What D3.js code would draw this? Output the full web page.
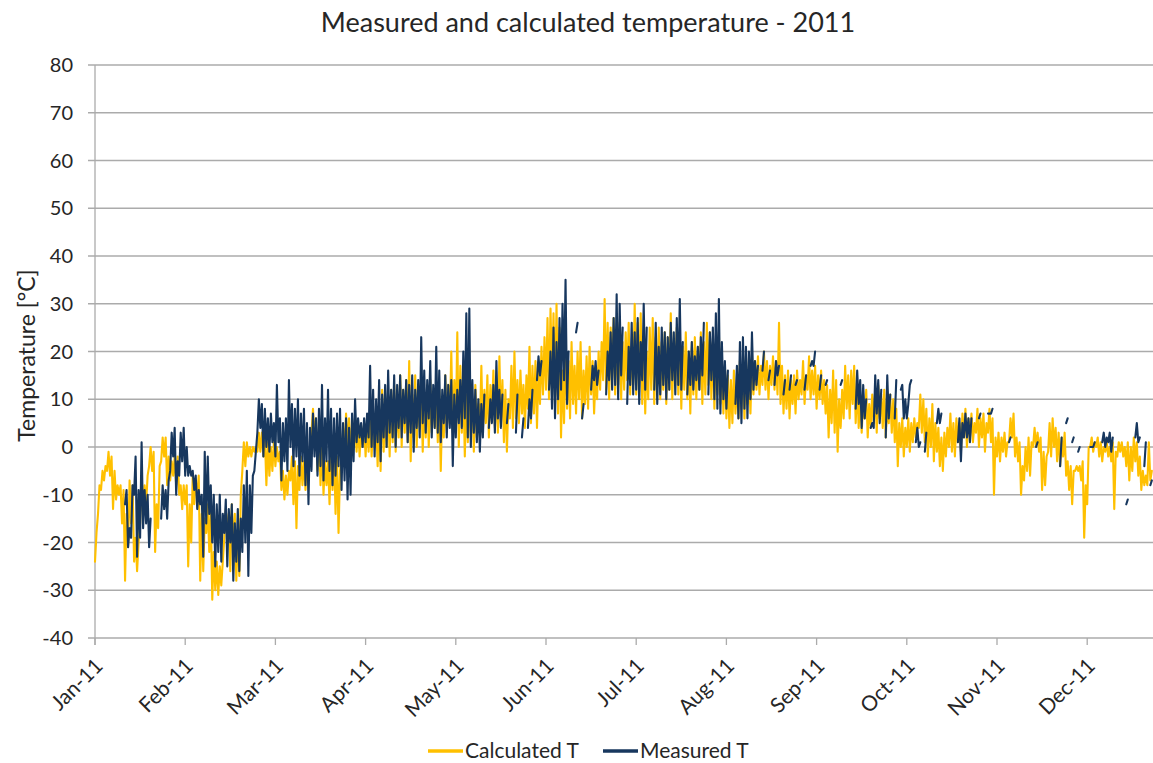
<!DOCTYPE html>
<html>
<head>
<meta charset="utf-8">
<script src="https://cdn.jsdelivr.net/npm/d3@7"></script>
<style>
  body { margin: 0; background: #fff; }
  text { font-family: Lato, "Open Sans", sans-serif; fill: #262626; }
</style>
</head>
<body>
<svg id="chart" width="1153" height="763"></svg>
<script>
// Labels and ticks
var monthLabels = ["Jan-11", "Feb-11", "Mar-11", "Apr-11", "May-11", "Jun-11",
                   "Jul-11", "Aug-11", "Sep-11", "Oct-11", "Nov-11", "Dec-11"];
var yTicks = [-40, -30, -20, -10, 0, 10, 20, 30, 40, 50, 60, 70, 80];
var seriesNames = ["Calculated T", "Measured T"];

// Calculated T, per day: night low and day high
var calcLo = [
  -24,-14,-9,-7,-5,-6,-13,-11,-10,-16,
  -28,-21,-16,-24,-26,-16,-14,-12,-4,-5,
  -22,-17,-3,-2,-8,-7,-6,-8,-10,-13,
  -12,-25,-20,-12,-10,-28,-26,-18,-22,-32,
  -30,-31,-29,-19,-18,-26,-22,-28,-27,-5,
  -4,-2,-2,-1,-1,-1,-2,-8,-6,-5,
  -4,-3,-9,-11,-10,-7,-12,-17,-9,-8,
  -9,-6,3,2,-5,-8,-10,-8,-12,-9,
  -14,-18,-2,-1,0,-2,0,-1,-2,0,
  -2,-1,-2,0,-4,-5,-1,0,-2,1,
  -1,2,0,3,1,-3,2,0,4,-1,
  2,0,3,4,1,-5,2,3,5,3,
  4,0,3,-2,1,2,-1,2,4,3,
  5,2,6,4,3,5,1,-1,6,4,
  6,5,7,4,8,5,7,4,9,11,
  12,10,14,9,7,2,5,8,6,9,
  7,10,6,9,8,11,7,10,12,14,
  12,10,14,11,13,10,12,14,11,13,
  11,14,9,7,10,12,9,13,10,12,
  9,12,10,13,11,8,12,10,7,11,
  10,12,9,11,13,10,8,11,9,7,
  6,4,5,7,6,8,6,9,7,11,
  12,11,13,12,10,13,12,11,9,7,
  8,6,9,7,10,11,9,12,10,11,
  8,10,9,7,2,5,3,-1,4,6,
  8,6,9,5,4,3,6,2,4,5,
  3,6,4,2,5,3,1,-4,0,-2,
  0,-1,1,2,4,3,1,-2,0,-3,
  -1,-4,-5,-2,0,-1,-2,1,-1,2,
  0,2,1,3,0,2,-1,3,1,-10,
  -2,-3,-1,-2,1,2,-2,-3,-10,-7,
  -5,-6,0,0,-1,-9,-8,-1,-2,0,
  -3,-4,-2,-6,-9,-12,-5,-5,-7,-19,
  -12,0,-1,0,-2,-3,-1,-2,-3,-13,
  -2,-1,-2,-4,-7,-5,-3,-6,-9,-8,
  -8,-7
];
var calcHi = [
  -18,-8,-5,-4,-1,-2,-5,-8,-8,-9,
  -14,-7,-8,-19,-20,-6,-8,-6,0,-1,
  -12,-4,2,2,-2,-3,-2,-2,-8,-8,
  -8,-12,-6,-7,-6,-14,-15,-12,-13,-22,
  -24,-25,-24,-13,-14,-12,-14,-18,-10,1,
  1,0,0,0,3,3,2,1,0,1,
  0,-1,-5,-6,-5,-2,-3,-4,-2,-3,
  -2,-1,8,6,3,1,-3,-3,-1,0,
  -2,-5,4,7,6,5,6,5,4,5,
  5,6,4,6,8,12,9,10,12,13,
  10,15,12,14,18,11,15,12,14,10,
  13,14,11,13,12,9,15,13,20,14,
  24,17,13,11,12,10,13,9,17,12,
  15,13,16,12,19,14,12,10,17,20,
  14,16,13,15,21,17,18,16,21,23,
  27,29,28,30,25,16,22,18,22,17,
  20,22,16,19,21,18,15,20,22,31,
  26,25,27,23,26,22,24,26,21,30,
  26,28,22,20,25,27,23,25,22,24,
  23,28,22,25,23,21,24,20,22,23,
  21,24,22,26,24,22,20,24,18,17,
  15,14,16,13,18,17,19,16,18,18,
  19,17,20,18,17,19,18,26,17,15,
  16,14,15,16,14,18,15,19,16,17,
  15,16,14,13,12,16,14,10,12,17,
  15,16,17,13,11,10,12,9,11,12,
  13,11,12,9,11,10,8,5,6,4,
  6,5,6,5,11,10,8,6,9,5,
  4,2,3,4,7,5,6,5,7,8,
  6,7,5,8,6,7,5,8,6,2,
  3,2,3,1,6,7,2,1,-4,0,
  2,1,4,3,2,-1,-2,5,6,4,
  3,2,3,-3,-4,-5,-4,-4,-3,-8,
  0,2,1,2,1,0,1,0,1,-1,
  1,1,0,1,0,2,1,-2,-5,-6,
  1,-5
];

// Measured T, per day: low and high, null where the logger had no data
var measLo = [
  null,null,null,null,null,null,null,null,null,null,
  -12,-21,-19,-10,-23,-19,-17,-16,-21,null,
  null,null,-15,-13,-15,-5,-2,-10,-6,-3,
  -6,-6,-6,-9,-13,-12,-23,-16,-14,-20,
  -25,-22,-24,-18,-25,-20,-28,-24,-26,-22,
  -20,-27,-18,-5,3,4,-2,0,-1,1,
  -2,1,-7,-3,-5,0,-4,-2,-6,-3,
  -8,-12,-5,-2,-6,-4,-7,-3,-5,-8,
  -6,-4,-9,-7,-11,-10,-3,1,2,0,
  1,2,0,-2,1,-3,2,0,3,2,
  0,4,2,5,1,3,-1,4,2,5,
  3,6,2,4,3,1,5,2,4,-4,
  2,5,4,6,2,0,3,1,-1,2,
  null,4,5,3,6,4,null,5,null,null,
  3,null,2,null,4,6,null,14,15,null,
  null,12,8,6,10,12,14,9,null,null,
  24,null,6,null,null,12,14,13,null,null,
  11,14,12,13,10,15,null,9,13,11,
  12,9,14,12,null,null,12,9,11,13,
  10,12,14,11,13,12,null,11,13,12,
  14,12,15,null,11,14,10,8,7,10,
  8,null,null,9,6,5,8,6,10,12,
  13,null,16,null,14,null,13,15,null,11,
  null,12,null,13,null,null,12,null,17,17,
  null,12,null,13,null,null,null,null,13,null,
  null,null,null,8,9,4,6,null,4,4,
  7,5,null,2,6,null,6,null,12,6,
  6,13,null,1,0,null,-1,null,null,null,
  5,5,null,null,null,null,null,1,-3,2,
  2,1,null,null,6,null,null,7,7,null,
  null,null,null,null,1,null,null,null,null,null,
  null,null,null,0,null,null,null,null,null,null,
  null,-4,null,5,null,1,null,-1,null,null,
  null,0,0,null,null,1,0,1,-1,null,
  null,null,null,-12,null,null,2,1,null,-4,
  null,-8
];
var measHi = [
  null,null,null,null,null,null,null,null,null,null,
  -9,-17,-8,-2,-9,1,-9,-10,-15,null,
  null,null,-8,-9,-7,3,4,-3,3,4,
  0,-4,-5,-6,-9,-10,-1,-2,-8,-10,
  -12,-10,-14,-11,-13,-12,-16,-13,-15,-8,
  -5,-8,-6,-1,10,9,8,6,7,5,
  13,6,5,6,14,9,8,10,7,8,
  5,4,7,6,8,13,6,12,8,6,
  7,8,5,6,4,7,10,6,5,6,
  7,17,12,10,14,11,13,16,12,15,
  13,15,12,14,13,15,12,14,23,16,
  14,18,13,21,16,12,15,13,14,11,
  12,14,20,28,29,14,12,10,9,11,
  null,10,13,18,12,11,null,9,null,null,
  11,null,6,null,10,12,null,19,18,null,
  null,20,25,22,27,30,35,20,null,null,
  26,null,9,null,null,17,18,16,null,null,
  20,24,27,32,30,25,null,21,26,24,
  27,22,30,25,null,null,26,21,25,24,
  23,26,24,27,31,22,null,20,22,19,
  21,23,26,null,24,25,28,31,22,18,
  16,null,null,17,22,23,21,20,24,18,
  17,null,20,null,16,null,18,17,null,14,
  null,15,null,14,null,null,15,null,18,20,
  null,15,null,14,null,null,null,null,14,null,
  null,null,null,16,14,13,10,null,5,15,
  14,12,null,15,11,null,14,null,13,10,
  9,14,null,4,1,null,3,null,null,null,
  8,7,null,null,null,null,null,6,5,7,
  6,6,null,null,7,null,null,7,8,null,
  null,null,null,null,2,null,null,null,null,null,
  null,null,null,1,null,null,null,null,null,null,
  null,2,null,6,null,2,null,0,null,null,
  null,0,1,null,null,3,2,3,2,null,
  null,null,null,-11,null,null,5,2,null,1,
  null,-7
];

var colors = ["#FFC000", "#17375E"];

// turn low/high pairs into one half-daily series
function toPoints(lo, hi) {
  var pts = [];
  lo.forEach(function(v, i) {
    pts.push({day: i, t: v});
    pts.push({day: i + 0.5, t: hi[i]});
  });
  return pts;
}

var svg = d3.select("#chart");
var plotLeft = 95, plotTop = 65, plotBottom = 638, plotRight = 1153;
var daysPerTick = 30;

var x = d3.scaleLinear()
          .domain([0, daysPerTick * monthLabels.length])
          .range([plotLeft, plotLeft + 90.2 * monthLabels.length]);
var y = d3.scaleLinear().domain([-40, 80]).range([plotBottom, plotTop]);

// Title
svg.append("text")
   .attr("x", 588).attr("y", 32)
   .attr("text-anchor", "middle")
   .style("font-size", "27px")
   .text("Measured and calculated temperature - 2011");

// Gridlines + y labels
var yAxis = svg.append("g");
yTicks.forEach(function(t) {
  yAxis.append("line")
       .attr("x1", plotLeft - 7).attr("x2", plotRight)
       .attr("y1", y(t)).attr("y2", y(t))
       .attr("stroke", "#ABABAB").attr("stroke-width", 1.3);
  yAxis.append("text")
       .attr("x", 73).attr("y", y(t))
       .attr("dy", "0.36em")
       .attr("text-anchor", "end")
       .style("font-size", "20px")
       .text(t);
});
yAxis.append("line")
     .attr("x1", plotLeft).attr("x2", plotLeft)
     .attr("y1", plotTop).attr("y2", plotBottom + 7)
     .attr("stroke", "#ABABAB").attr("stroke-width", 1.3);

// x ticks + rotated labels
var xAxis = svg.append("g");
monthLabels.forEach(function(m, i) {
  var px = x(i * daysPerTick);
  xAxis.append("line")
       .attr("x1", px).attr("x2", px)
       .attr("y1", plotBottom).attr("y2", plotBottom + 7)
       .attr("stroke", "#ABABAB").attr("stroke-width", 1.3);
  xAxis.append("text")
       .attr("transform", "translate(" + (px + 4) + "," + (plotBottom + 24) + ") rotate(-45)")
       .attr("dy", "0.35em")
       .attr("text-anchor", "end")
       .style("font-size", "21px")
       .text(m);
});

// Axis title
svg.append("text")
   .attr("transform", "translate(27," + ((plotTop + plotBottom) / 2 + 4) + ") rotate(-90)")
   .attr("text-anchor", "middle")
   .attr("dy", "0.35em")
   .style("font-size", "23px")
   .text("Temperature [°C]");

// Lines
var line = d3.line()
             .defined(function(d) { return d.t !== null; })
             .x(function(d) { return x(d.day); })
             .y(function(d) { return y(d.t); });

var series = [toPoints(calcLo, calcHi), toPoints(measLo, measHi)];
series.forEach(function(pts, i) {
  svg.append("path")
     .datum(pts)
     .attr("d", line)
     .attr("fill", "none")
     .attr("stroke", colors[i])
     .attr("stroke-width", 2.1)
     .attr("stroke-linejoin", "round")
     .attr("stroke-linecap", "round");
});

// Legend
var legendX = [428, 603];
seriesNames.forEach(function(name, i) {
  var g = svg.append("g").attr("transform", "translate(" + legendX[i] + ",751)");
  g.append("line")
   .attr("x1", 0).attr("x2", 35)
   .attr("stroke", colors[i]).attr("stroke-width", 3.5);
  g.append("text")
   .attr("x", 37).attr("dy", "0.35em")
   .style("font-size", "21px")
   .text(name);
});
</script>
</body>
</html>
